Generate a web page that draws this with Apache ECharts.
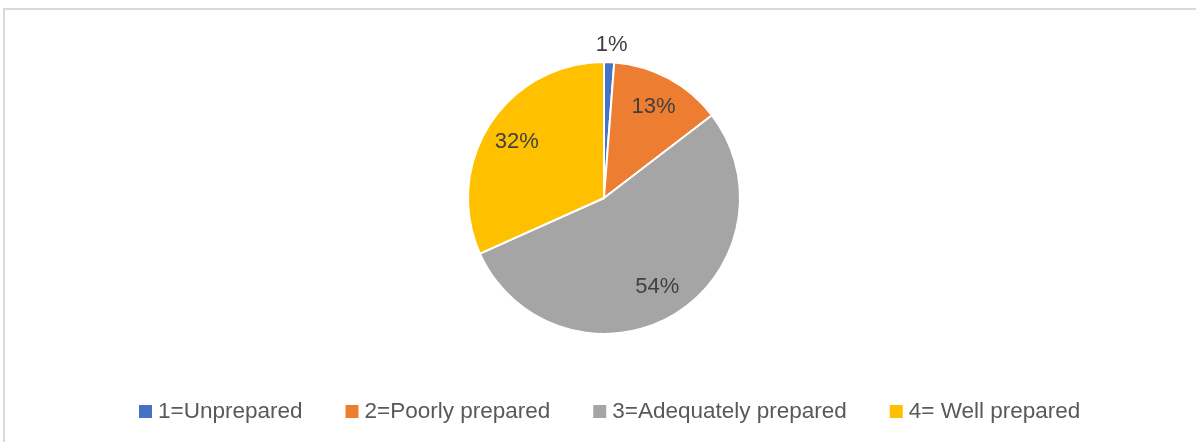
<!DOCTYPE html>
<html>
<head>
<meta charset="utf-8">
<script src="https://cdn.jsdelivr.net/npm/echarts@6/dist/echarts.min.js"></script>
<style>
  html, body { margin: 0; padding: 0; background: #fff; }
  #frame {
    position: absolute; left: 3px; top: 8px; width: 1200px; height: 445px;
    border: 2px solid #d9d9d9; box-sizing: border-box;
  }
  #chart { position: absolute; left: 0; top: 0; width: 1196px; height: 442px; }
</style>
</head>
<body>
<div id="frame"></div>
<div id="chart"></div>
<script>
  // categories + share of answers (%)
  const categories = ['1=Unprepared', '2=Poorly prepared', '3=Adequately prepared', '4= Well prepared'];
  const values = [1.2, 13.4, 53.7, 31.7];
  const colors = ['#4472C4', '#ED7D31', '#A5A5A5', '#FFC000'];

  const chart = echarts.init(document.getElementById('chart'));

  const total = values.reduce(function (a, b) { return a + b; }, 0);
  const pieData = categories.map(function (c, i) {
    return { name: c, value: values[i], itemStyle: { color: colors[i] } };
  });

  // labels sit on a separate transparent ring so they land ~3/4 of the way out
  const labelData = categories.map(function (c, i) {
    const item = { name: c, value: values[i] };
    if (i === 0) {
      item.label = { position: 'outside' };
      item.labelLine = { show: false, length: 17, length2: 0 };
    }
    return item;
  });

  chart.setOption({
    animation: false,
    legend: {
      bottom: 19,
      left: 137,
      padding: 0,
      itemWidth: 15,
      itemHeight: 15,
      itemGap: 41,
      icon: 'rect',
      textStyle: { fontFamily: 'Liberation Sans, Arial', fontSize: 22.5, color: '#595959' },
      data: categories.map(function (c, i) { return { name: c, itemStyle: { color: colors[i] } }; })
    },
    series: [
      {
        type: 'pie',
        center: [604, 198],
        radius: [0, 136],
        startAngle: 90,
        clockwise: true,
        silent: true,
        label: { show: false },
        labelLine: { show: false },
        itemStyle: { borderColor: '#fff', borderWidth: 2 },
        data: pieData
      },
      {
        type: 'pie',
        center: [604, 198],
        radius: [66, 136],
        startAngle: 90,
        clockwise: true,
        silent: true,
        itemStyle: { color: 'rgba(0,0,0,0)' },
        label: {
          show: true,
          position: 'inside',
          fontFamily: 'Liberation Sans, Arial',
          fontSize: 22,
          color: '#404040',
          formatter: function (p) { return Math.round(p.value / total * 100) + '%'; }
        },
        labelLayout: function (p) {
          return p.dataIndex === 0 ? { align: 'center', dx: -3 } : {};
        },
        legendHoverLink: false,
        data: labelData
      }
    ]
  });
</script>
</body>
</html>
